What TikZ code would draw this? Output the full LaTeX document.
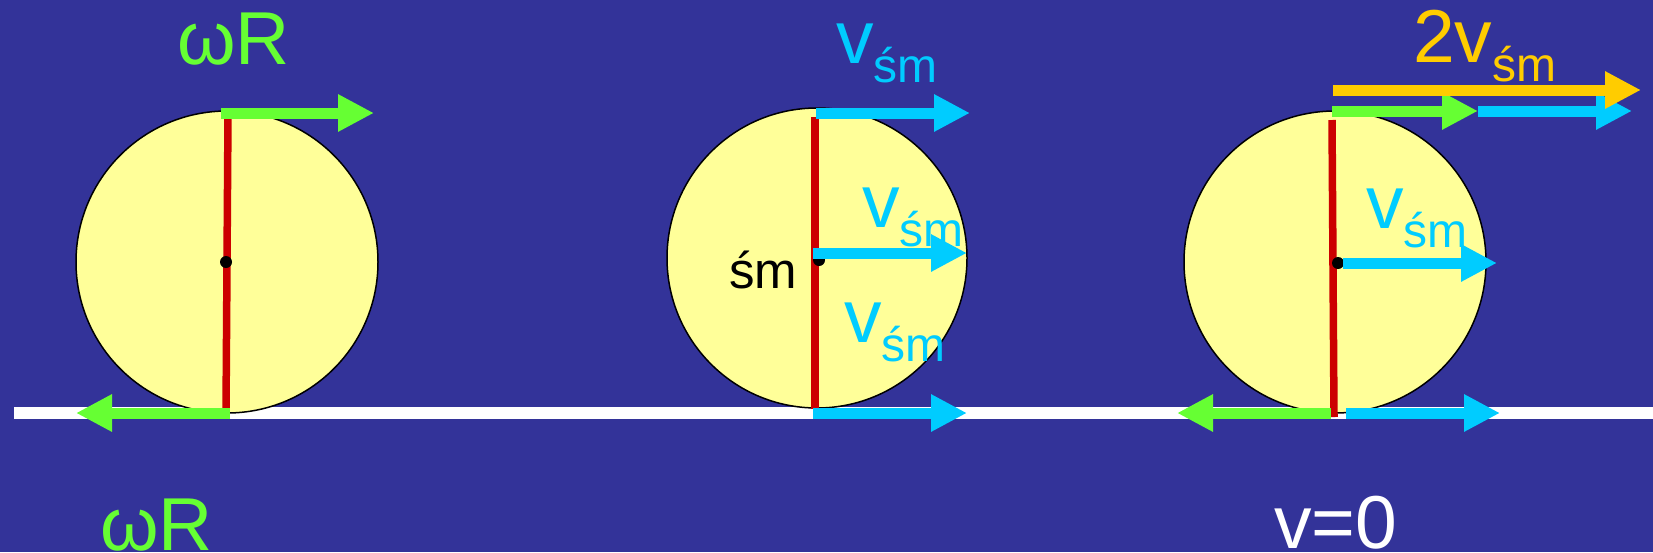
\documentclass[tikz,border=0pt]{standalone}
\usepackage{fontspec}
\setmainfont{Liberation Sans}
\usepackage{tikz}
\usetikzlibrary{arrows.meta}
\definecolor{slideblue}{HTML}{333399}
\definecolor{wheelyellow}{HTML}{FFFF99}
\definecolor{vgreen}{HTML}{66FF33}
\definecolor{vcyan}{HTML}{00CCFF}
\definecolor{vorange}{HTML}{FFCC00}
\definecolor{spokered}{HTML}{CC0000}
\newcommand{\bigtxt}{\fontsize{75}{80}\selectfont}
\newcommand{\subtxt}{\fontsize{48}{52}\selectfont}
\newcommand{\cmtxt}{\fontsize{51}{55}\selectfont}
\newcommand{\vsub}[1]{#1\raisebox{-19pt}{\subtxt śm}}

\begin{document}
\begin{tikzpicture}[
  x=1pt, y=-1pt,
  vec/.style={line width=11pt, -{Triangle[length=36pt,width=35pt]}},
  wheel/.style={draw=black, line width=1.5pt, fill=wheelyellow},
  spoke/.style={draw=spokered, line width=7.5pt},
  centre/.style={fill=black},
  lbl/.style={anchor=base west, inner sep=0pt, font=\bigtxt}
]
\useasboundingbox (0,0) rectangle (1653,552);
\fill[slideblue] (0,0) rectangle (1653,552);
\fill[white] (14,407) rectangle (1653,419);

% wheel 1: pure rotation
\draw[wheel] (227,262) circle (151);
\draw[spoke] (228,114) -- (226,413);
\fill[centre] (226,262) circle (6);
\draw[vec, vgreen] (221,113) -- (374,113);
\draw[vec, vgreen] (230,413) -- (76,413);
\node[lbl, text=vgreen] (omegatop) at (177,64) {ωR};
\node[lbl, text=vgreen] (omegabot) at (100,550) {ωR};

% wheel 2: pure translation
\draw[wheel] (817,258) circle (150);
\draw[spoke] (815,117) -- (815,409);
\fill[centre] (819,260) circle (6);
\draw[vec, vcyan] (816,113) -- (970,113);
\draw[vec, vcyan] (813,253) -- (967,253);
\draw[vec, vcyan] (813,413) -- (967,413);
\node[lbl, text=vcyan] (vtop) at (836,63) {\vsub{v}};
\node[lbl, text=vcyan] (vmid) at (862,227) {\vsub{v}};
\node[lbl, text=vcyan] (vlow) at (844,342) {\vsub{v}};
\node[lbl, text=black, font=\cmtxt] (cm) at (729,288) {śm};

% wheel 3: rolling
\draw[wheel] (1335,262) circle (151);
\draw[spoke] (1332,120) -- (1334,417);
\fill[centre] (1338,263) circle (6);
\draw[vec, vcyan] (1478,111) -- (1632,111);
\draw[vec, vgreen] (1332,111) -- (1478,111);
\draw[vec, vorange] (1333,90) -- (1641,90);
\draw[vec, vcyan] (1343,263) -- (1497,263);
\draw[vec, vgreen] (1331,413) -- (1177,413);
\draw[vec, vcyan] (1346,413) -- (1500,413);
\node[lbl, text=vorange] (twov) at (1413,62) {\vsub{2v}};
\node[lbl, text=vcyan] (vroll) at (1366,228) {\vsub{v}};
\node[lbl, text=white] (vzero) at (1274,548) {v=0};
\end{tikzpicture}
\end{document}
